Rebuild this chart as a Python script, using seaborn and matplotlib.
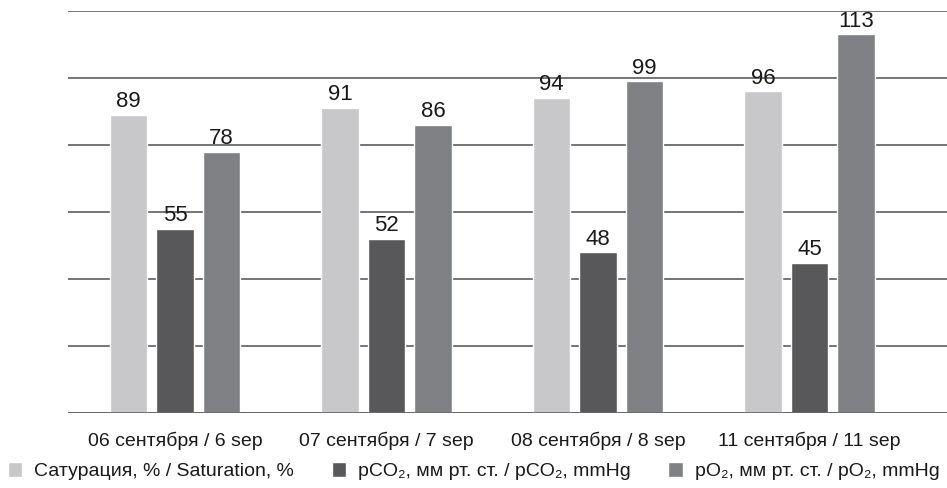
import matplotlib
matplotlib.use("Agg")
import matplotlib.pyplot as plt
import pandas as pd
import seaborn as sns

dates = ["06 сентября / 6 sep", "07 сентября / 7 sep",
         "08 сентября / 8 sep", "11 сентября / 11 sep"]
series = ["Сатурация, % / Saturation, %",
          "pCO₂, мм рт. ст. / pCO₂, mmHg",
          "pO₂, мм рт. ст. / pO₂, mmHg"]
saturation = [89, 91, 94, 96]
pco2 = [55, 52, 48, 45]
po2 = [78, 86, 99, 113]

COLORS = ["#c8c8ca", "#58585a", "#808184"]

rows = []
for name, vals in zip(series, [saturation, pco2, po2]):
    for d, v in zip(dates, vals):
        rows.append({"date": d, "series": name, "value": v})
df = pd.DataFrame(rows)

sns.set_style("white")
plt.rcParams["font.family"] = ["Liberation Sans Narrow", "Liberation Sans", "DejaVu Sans"]

fig = plt.figure(figsize=(9.47, 4.88), dpi=100)
ax = fig.add_axes([0.0718, 0.1527, 0.9282, 0.8248])

sns.barplot(data=df, x="date", y="value", hue="series", order=dates,
            hue_order=series, palette=COLORS, width=0.66, gap=0.19,
            saturation=1, ax=ax, legend=True, zorder=3)

for cont in ax.containers:
    ax.bar_label(cont, padding=2, fontsize=16, color="#1a1a1a")

ax.set_ylim(0, 120)
ax.set_xlim(-0.506, 3.65)
ax.set_yticks(range(0, 121, 20))
ax.set_yticklabels([])
ax.grid(axis="y", color="#505050", linewidth=1.1, zorder=0)
ax.axhline(0, color="#666666", linewidth=2, zorder=4)
ax.tick_params(axis="x", length=0, pad=13, labelsize=14, labelcolor="#1a1a1a")
ax.tick_params(axis="y", length=0)
for s in ax.spines.values():
    s.set_visible(False)
ax.set_xlabel("")
ax.set_ylabel("")

handles, labels = ax.get_legend_handles_labels()
ax.legend_.remove()
fig.legend(handles, labels, loc="lower center", bbox_to_anchor=(0.5, -0.02),
           ncol=3, frameon=False, fontsize=14, handlelength=0.75,
           handleheight=0.75, handletextpad=0.6, columnspacing=1.95,
           labelcolor="#1a1a1a")

fig.savefig("out.png", dpi=100)
